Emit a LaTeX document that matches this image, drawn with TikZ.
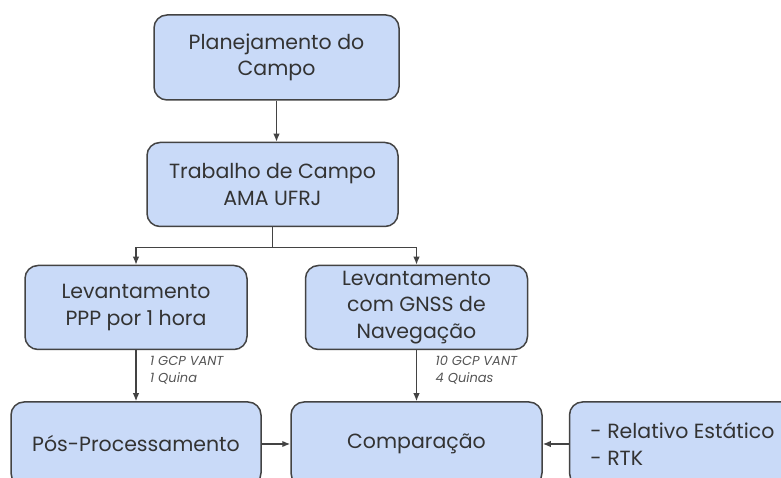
\documentclass[tikz,border=0pt]{standalone}
\usepackage{fontspec}
\setmainfont{Poppins}
\usetikzlibrary{positioning,arrows.meta,calc}
\definecolor{caixa}{HTML}{C9DAF8}
\definecolor{borda}{HTML}{434343}
\definecolor{texto}{HTML}{333333}
\definecolor{cinza}{HTML}{555555}
\begin{document}
\begin{tikzpicture}[x=1pt, y=1pt,
        etapa/.style={draw=borda, line width=1.5pt, fill=caixa, rounded corners=13pt, align=center, text=texto, font=\fontsize{20.5}{26.5}\selectfont, inner sep=0pt, minimum height=84pt},
        seta/.style={-{Latex[length=8pt,width=6.5pt]}, draw=borda, line width=1.4pt},
        rotulo/.style={font=\fontsize{13}{16.5}\selectfont\itshape, text=cinza, align=left, inner sep=0pt}]
        \useasboundingbox (0,0) rectangle (781,478);
        \clip (0,0) rectangle (781,478);

        \node[etapa, minimum width=245pt, minimum height=85pt] (plan) at (276.5,420.5) {Planejamento do\\Campo};
        \node[etapa, minimum width=251pt, below=41pt of plan, xshift=-4pt] (trab) {Trabalho de Campo\\AMA UFRJ};
        \node[etapa, minimum width=222pt] (ppp) at (136,170.5) {Levantamento\\PPP por 1 hora};
        \node[etapa, minimum width=222pt, right=57pt of ppp] (gnss) {Levantamento\\com GNSS de\\Navegação};
        \node[etapa, minimum width=250pt, below=51pt of ppp] (pos) {Pós-Processamento};
        \node[etapa, minimum width=251pt, below=51pt of gnss] (comp) {Comparação};
        \node[etapa, align=left, minimum width=226pt, right=26pt of comp] (rel) {- Relativo Estático\\- RTK};

        \node[rotulo, below right=6pt and 14pt of ppp.south] (rppp) {1 GCP VANT\\1 Quina};
        \node[rotulo, below right=6pt and 19pt of gnss.south] (rgnss) {10 GCP VANT\\4 Quinas};

        \draw[seta] (plan.south) -- (plan.south |- trab.north);
        \draw[seta] (trab.south) -- ++(0,-20) -| (ppp.north);
        \draw[seta] (trab.south) -- ++(0,-20) -| (gnss.north);
        \draw[seta] (ppp) -- (pos);
        \draw[seta] (gnss) -- (comp);
        \draw[seta] (pos) -- (comp);
        \draw[seta] (rel) -- (comp);
    \end{tikzpicture}
\end{document}
